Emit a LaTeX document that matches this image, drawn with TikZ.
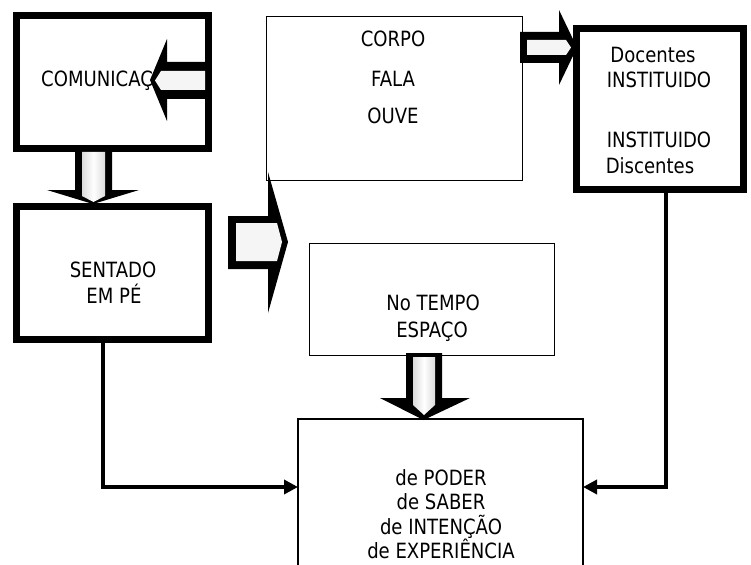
\documentclass[tikz,border=0pt]{standalone}
\usepackage{fontspec}
\setmainfont[FakeStretch=0.86]{DejaVu Sans}
\usetikzlibrary{arrows.meta}
\begin{document}
\begin{tikzpicture}[x=1pt,y=-1pt]
\tikzset{
  thickbox/.style={draw,line width=7pt,inner sep=0pt,outer sep=0pt},
  thinbox/.style={draw,line width=1.6pt,inner sep=0pt,outer sep=0pt},
  lbl/.style={font=\fontsize{21}{24}\selectfont,inner sep=0pt,anchor=base},
  conn/.style={line width=4pt,-{Triangle[length=14pt,width=14pt]}},
  bkout/.style={fill=black},
  bkinh/.style={fill=gray!8},
  bkinv/.style={left color=gray!28,right color=gray!28,middle color=white}
}
\useasboundingbox (0,0) rectangle (751,564);
% boxes
\node[thickbox,minimum width=192pt,minimum height=133pt] (com) at (112.5,82) {};
\node[thickbox,minimum width=192pt,minimum height=133pt] (sent) at (112.5,273) {};
\node[thickbox,minimum width=167pt,minimum height=161pt] (doc) at (660,109) {};
\node[thinbox,minimum width=256pt,minimum height=164pt] (corpo) at (394.5,98.5) {};
\node[thinbox,minimum width=245pt,minimum height=112pt] (tempo) at (432,299.5) {};
\node[thinbox,minimum width=285pt,minimum height=201pt] (poder) at (440.5,519.5) {};
% texts
\node[lbl,anchor=base west] (tcom) at (41,87) {COMUNICAÇ};
\node[lbl] (tsent1) at (113,277) {SENTADO};
\node[lbl] (tsent2) at (114,303.5) {EM PÉ};
\node[lbl] (tcorpo) at (393,47) {CORPO};
\node[lbl] (tfala) at (393,87) {FALA};
\node[lbl] (touve) at (393,124) {OUVE};
\node[lbl] (tdoc1) at (653,63) {Docentes};
\node[lbl] (tdoc2) at (659,87.5) {INSTITUIDO};
\node[lbl] (tdoc3) at (659,148) {INSTITUIDO};
\node[lbl] (tdoc4) at (650,173) {Discentes};
\node[lbl] (ttempo1) at (433,310) {No TEMPO};
\node[lbl] (ttempo2) at (432,337) {ESPAÇO};
\node[lbl] (tpod1) at (441,485) {de PODER};
\node[lbl] (tpod2) at (441,509.5) {de SABER};
\node[lbl] (tpod3) at (441,534) {de INTENÇÃO};
\node[lbl] (tpod4) at (441,558) {de EXPERIÊNCIA};
% block arrow inside COMUNICACAO box (pointing left)
\fill[bkout] (150,80) -- (167,39) -- (167,62) -- (209,62) -- (209,99) -- (167,99) -- (167,121) -- cycle;
\fill[bkinh] (155,80.5) -- (161,71) -- (205,71) -- (205,90) -- (161,90) -- cycle;
% block arrow down COMUNICACAO -> SENTADO
\fill[bkout] (75,150) -- (112,150) -- (112,190) -- (139,190) -- (93,204) -- (47,190) -- (75,190) -- cycle;
\fill[bkinv] (82,152) -- (105,152) -- (105,196) -- (93.5,202) -- (82,196) -- cycle;
% block arrow right from SENTADO
\fill[bkout] (228,216) -- (268,216) -- (268,172) -- (288,242) -- (268,313) -- (268,269) -- (228,269) -- cycle;
\fill[bkinh] (236,223) -- (277,223) -- (282,242) -- (277,261) -- (236,261) -- cycle;
% block arrow CORPO -> Docentes
\fill[bkout] (520,32) -- (559,32) -- (559,10) -- (577,47.5) -- (559,85) -- (559,63) -- (520,63) -- cycle;
\fill[bkinh] (527,40) -- (566,40) -- (571,47.5) -- (566,55) -- (527,55) -- cycle;
% block arrow down No TEMPO -> bottom
\fill[bkout] (406,353) -- (442,353) -- (442,398) -- (470,398) -- (423.5,420) -- (380,398) -- (406,398) -- cycle;
\fill[bkinv] (413,357) -- (435,357) -- (435,405) -- (424,415) -- (413,405) -- cycle;
% connectors
\draw[conn] ([xshift=-9.5pt]sent.south) |- ([yshift=-68pt]poder.north west);
\draw[conn] ([xshift=6pt]doc.south) |- ([yshift=-68pt]poder.north east);
\end{tikzpicture}
\end{document}
